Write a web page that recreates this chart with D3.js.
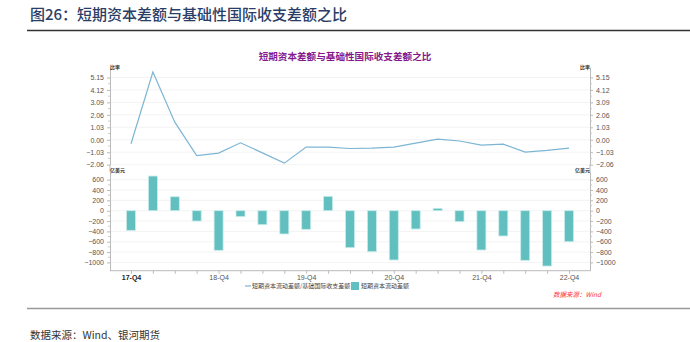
<!DOCTYPE html>
<html><head><meta charset="utf-8">
<script src="https://cdn.jsdelivr.net/npm/d3@7"></script>
<style>
body{margin:0;background:#fff;}
svg{display:block;font-family:"Noto Sans CJK SC","Noto Sans",sans-serif;}
</style></head>
<body><svg id="c" width="690" height="342"></svg>
<script>
const categories = ["17-Q4","18-Q1","18-Q2","18-Q3","18-Q4","19-Q1","19-Q2","19-Q3","19-Q4","20-Q1","20-Q2","20-Q3","20-Q4","21-Q1","21-Q2","21-Q3","21-Q4","22-Q1","22-Q2","22-Q3","22-Q4"];
const ratioValues = [-0.33,5.6,1.46,-1.3,-1.1,-0.25,-1.08,-1.93,-0.6,-0.6,-0.72,-0.69,-0.6,-0.28,0.05,-0.1,-0.44,-0.36,-1.02,-0.88,-0.69];
const flowValues = [-380,670,270,-200,-766,-115,-270,-450,-360,278,-715,-793,-953,-354,46,-212,-760,-489,-960,-1070,-600];
const ratioTicks = [-2.06,-1.03,0,1.03,2.06,3.09,4.12,5.15];
const flowTicks = [-1000,-800,-600,-400,-200,0,200,400,600];
const xLabels = ["17-Q4","18-Q4","19-Q4","20-Q4","21-Q4","22-Q4"];

const svg = d3.select("#c");
const L = 110, R = 590;
const x = d3.scalePoint().domain(categories).range([131,569]);
const yR = d3.scaleLinear().domain([-2.06,6.0]).range([164.7,67.2]);
const yF = d3.scaleLinear().domain([-1160,750]).range([270.7,171.9]);

// header
svg.append("text").attr("x",30).attr("y",20).attr("font-size",15).attr("font-weight",500)
  .attr("fill","#2a3d66").text("图26：短期资本差额与基础性国际收支差额之比");
svg.append("line").attr("x1",27).attr("x2",690).attr("y1",30.5).attr("y2",30.5).attr("stroke","#333").attr("stroke-width",1.5);
svg.append("line").attr("x1",27).attr("x2",690).attr("y1",308.5).attr("y2",308.5).attr("stroke","#999").attr("stroke-width",1.5);
svg.append("text").attr("x",30).attr("y",339).attr("font-size",10.5).attr("fill","#333").text("数据来源：Wind、银河期货");

// chart title
svg.append("text").attr("x",345).attr("y",60).attr("text-anchor","middle").attr("font-size",9.6).attr("font-weight",700)
  .attr("fill","#85198c").text("短期资本差额与基础性国际收支差额之比");

// gridlines
const grid = svg.append("g").attr("stroke","#f0f0f0").attr("stroke-width",0.8);
ratioTicks.forEach(t=>grid.append("line").attr("x1",L).attr("x2",R).attr("y1",yR(t)).attr("y2",yR(t)));
flowTicks.forEach(t=>grid.append("line").attr("x1",L).attr("x2",R).attr("y1",yF(t)).attr("y2",yF(t)));

function styleAxis(g){
  g.select(".domain").attr("stroke","#bbb");
  g.selectAll(".tick line").attr("stroke","#bbb");
  g.selectAll(".tick text").attr("fill","#555").attr("font-size",7).attr("font-family","Liberation Sans, Arial, sans-serif");
}
function minor(scale, ticks, xpos, dir){
  const g = svg.append("g").attr("stroke","#ccc");
  for(let i=0;i<ticks.length-1;i++){
    const m=(ticks[i]+ticks[i+1])/2;
    g.append("line").attr("x1",xpos).attr("x2",xpos+dir*2).attr("y1",scale(m)).attr("y2",scale(m));
  }
}
// left axes
svg.append("g").attr("transform",`translate(${L},0)`).call(d3.axisLeft(yR).tickValues(ratioTicks).tickFormat(d3.format(".2f")).tickSize(3).tickSizeOuter(0)).call(styleAxis);
svg.append("g").attr("transform",`translate(${L},0)`).call(d3.axisLeft(yF).tickValues(flowTicks).tickFormat(d3.format("d")).tickSize(3).tickSizeOuter(0)).call(styleAxis);
// right axes
svg.append("g").attr("transform",`translate(${R},0)`).call(d3.axisRight(yR).tickValues(ratioTicks).tickFormat(d3.format(".2f")).tickSize(3).tickSizeOuter(0)).call(styleAxis);
svg.append("g").attr("transform",`translate(${R},0)`).call(d3.axisRight(yF).tickValues(flowTicks).tickFormat(d3.format("d")).tickSize(3).tickSizeOuter(0)).call(styleAxis);
minor(yR, ratioTicks, L, -1); minor(yF, flowTicks, L, -1);
minor(yR, ratioTicks, R, 1); minor(yF, flowTicks, R, 1);
svg.append("line").attr("x1",L).attr("x2",L).attr("y1",yR.range()[0]).attr("y2",yF.range()[1]).attr("stroke","#bbb");
svg.append("line").attr("x1",R).attr("x2",R).attr("y1",yR.range()[0]).attr("y2",yF.range()[1]).attr("stroke","#bbb");

// unit labels
const unit = (xx,yy,t,anchor)=>svg.append("text").attr("x",xx).attr("y",yy).attr("font-size",5).attr("font-weight",700).attr("fill","#333").attr("text-anchor",anchor).text(t);
unit(110,69,"比率","start"); unit(590,69,"比率","end");
unit(110,172,"亿美元","start"); unit(590,172,"亿美元","end");

// bars
svg.append("g").selectAll("rect").data(flowValues).join("rect")
  .attr("x",(d,i)=>x(categories[i])-4.5).attr("width",9)
  .attr("y",d=>yF(Math.max(0,d))).attr("height",d=>Math.abs(yF(d)-yF(0)))
  .attr("fill","#62bfbf").attr("stroke","#c9ecec").attr("stroke-width",0.8);

// line
svg.append("path").datum(ratioValues)
  .attr("d",d3.line().x((d,i)=>x(categories[i])).y(d=>yR(d)))
  .attr("fill","none").attr("stroke","#7db5d4").attr("stroke-width",1.2);

// x axis
const xa = svg.append("g").attr("transform","translate(0,270.7)")
  .call(d3.axisBottom(x).tickValues(categories).tickSize(3).tickPadding(1).tickSizeOuter(0).tickFormat(d=>xLabels.includes(d)?d:""));
xa.select(".domain").attr("stroke","#bbb").attr("d",`M${L},0H${R}`);
xa.selectAll(".tick line").attr("stroke","#bbb");
xa.selectAll(".tick text").attr("fill","#555").attr("font-size",7).attr("font-family","Liberation Sans, Arial, sans-serif")
  .attr("font-weight",d=>d===categories[0]?700:400).attr("fill",d=>d===categories[0]?"#222":"#555");

// legend
const lg = svg.append("g").attr("font-size",6).attr("fill","#444");
lg.append("line").attr("x1",245).attr("x2",251).attr("y1",286).attr("y2",286).attr("stroke","#7db5d4").attr("stroke-width",1.2);
lg.append("text").attr("x",252).attr("y",288.2).text("短期资本流动差额/基础国际收支差额");
lg.append("rect").attr("x",351).attr("y",282).attr("width",8).attr("height",8).attr("fill","#62bfbf");
lg.append("text").attr("x",361).attr("y",288.2).text("短期资本流动差额");

svg.append("text").attr("x",601).attr("y",297).attr("text-anchor","end").attr("font-size",6.5).attr("font-style","italic")
  .attr("fill","#ff3333").text("数据来源：Wind");
</script></body></html>
